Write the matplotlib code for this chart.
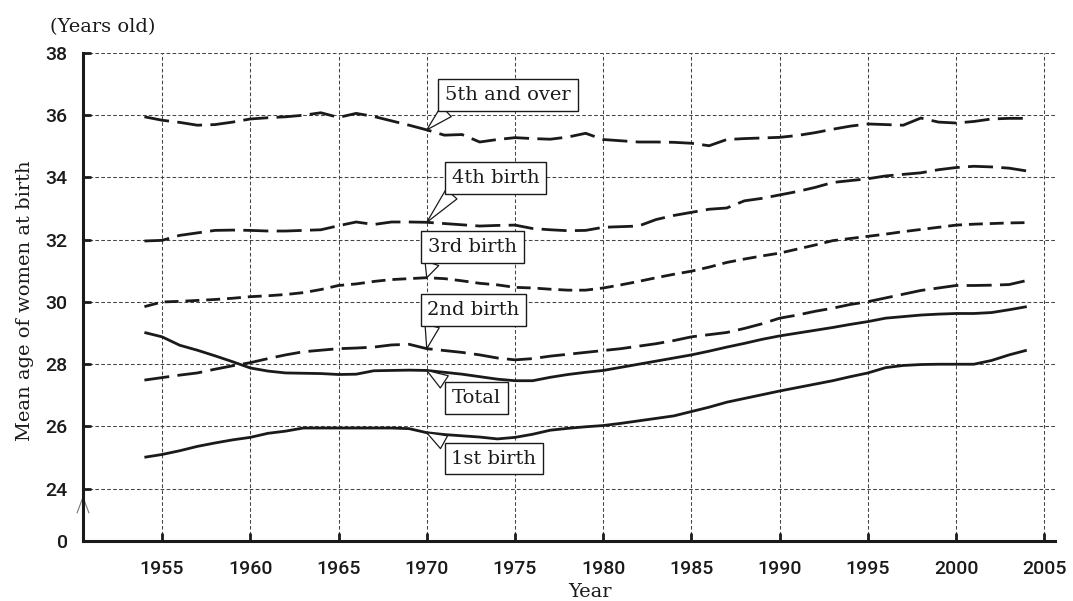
import numpy as np
import matplotlib
matplotlib.use('Agg')
import matplotlib.pyplot as plt

# mean age of women at birth, by birth order
years = np.arange(1954, 2005)

total = [29.02, 28.88, 28.61, 28.45, 28.27, 28.08, 27.88, 27.78, 27.72, 27.71,
         27.70, 27.67, 27.68, 27.79, 27.80, 27.81, 27.80, 27.74, 27.68, 27.60,
         27.52, 27.47, 27.47, 27.58, 27.67, 27.74, 27.80, 27.90, 28.00, 28.10,
         28.20, 28.30, 28.42, 28.55, 28.67, 28.80, 28.91, 29.00, 29.09, 29.18,
         29.28, 29.37, 29.48, 29.53, 29.58, 29.61, 29.63, 29.63, 29.66, 29.75,
         29.85]
first = [25.01, 25.10, 25.22, 25.36, 25.47, 25.57, 25.65, 25.78, 25.85, 25.95,
         25.95, 25.95, 25.95, 25.95, 25.95, 25.93, 25.80, 25.74, 25.70, 25.66,
         25.60, 25.65, 25.75, 25.88, 25.94, 25.99, 26.03, 26.10, 26.18, 26.26,
         26.34, 26.48, 26.62, 26.78, 26.90, 27.02, 27.14, 27.25, 27.36, 27.47,
         27.60, 27.72, 27.89, 27.96, 27.99, 28.00, 28.00, 28.00, 28.12, 28.30,
         28.45]
second = [27.49, 27.57, 27.65, 27.72, 27.84, 27.95, 28.05, 28.18, 28.30, 28.40,
          28.45, 28.50, 28.52, 28.55, 28.62, 28.64, 28.50, 28.44, 28.38, 28.30,
          28.20, 28.14, 28.18, 28.26, 28.32, 28.38, 28.44, 28.50, 28.58, 28.66,
          28.76, 28.88, 28.95, 29.02, 29.15, 29.30, 29.48, 29.58, 29.70, 29.80,
          29.92, 30.01, 30.13, 30.25, 30.37, 30.45, 30.53, 30.53, 30.54, 30.56,
          30.69]
third = [29.85, 30.00, 30.02, 30.05, 30.08, 30.12, 30.17, 30.20, 30.24, 30.30,
         30.40, 30.53, 30.58, 30.66, 30.72, 30.75, 30.78, 30.75, 30.68, 30.60,
         30.55, 30.47, 30.45, 30.41, 30.38, 30.38, 30.45, 30.55, 30.66, 30.78,
         30.89, 30.99, 31.12, 31.27, 31.38, 31.48, 31.57, 31.70, 31.83, 31.97,
         32.04, 32.11, 32.18, 32.26, 32.33, 32.40, 32.47, 32.50, 32.52, 32.54,
         32.55]
fourth = [31.96, 31.98, 32.14, 32.22, 32.30, 32.31, 32.30, 32.28, 32.28, 32.30,
          32.32, 32.45, 32.57, 32.49, 32.57, 32.57, 32.56, 32.52, 32.48, 32.44,
          32.46, 32.47, 32.36, 32.32, 32.29, 32.30, 32.40, 32.42, 32.44, 32.65,
          32.78, 32.88, 32.98, 33.02, 33.25, 33.33, 33.44, 33.55, 33.68, 33.84,
          33.90, 33.96, 34.05, 34.10, 34.15, 34.25, 34.32, 34.36, 34.34, 34.30,
          34.21]
fifth = [35.95, 35.84, 35.77, 35.68, 35.70, 35.78, 35.88, 35.92, 35.95, 36.00,
         36.08, 35.93, 36.06, 35.96, 35.82, 35.68, 35.53, 35.36, 35.38, 35.14,
         35.22, 35.28, 35.25, 35.23, 35.30, 35.42, 35.22, 35.18, 35.14, 35.14,
         35.13, 35.10, 35.02, 35.22, 35.25, 35.27, 35.29, 35.35, 35.44, 35.55,
         35.65, 35.72, 35.70, 35.68, 35.91, 35.78, 35.75, 35.80, 35.88, 35.90,
         35.90]

labels = ['5th and over', '4th birth', '3rd birth', '2nd birth', 'Total', '1st birth']
label_pos = [(1974.6, 36.65), (1973.9, 33.99), (1972.6, 31.77),
             (1972.65, 29.75), (1972.8, 26.92), (1973.8, 24.97)]

xticks = np.arange(1955, 2006, 5)
yticks = np.arange(24, 39, 2)
y_zero = 22.32   # where the "0" of the broken axis sits

ink = '#1a1a1a'
serif = 'DejaVu Serif'

fig = plt.figure(figsize=(10.73, 6.01), dpi=100)
ax = fig.add_axes([83/1073, 60/601, (1055-83)/1073, (541-53)/601])

series = [fifth, fourth, third, second, total, first]
dashes = [(9, 3), (9, 3), (5, 2.5), (9, 3), None, None]
for vals, d in zip(series, dashes):
    if d is None:
        ax.plot(years, vals, color=ink, lw=2, solid_capstyle='butt')
    else:
        ax.plot(years, vals, color=ink, lw=2, dashes=d)

ax.set_xlim(1950.52, 2005.6)
ax.set_ylim(y_zero, 38)

# dashed grid
for x in xticks:
    ax.axvline(x, color='#444444', lw=0.75, dashes=(3.5, 2.2), zorder=0)
for y in yticks:
    ax.axhline(y, color='#444444', lw=0.75, dashes=(3.5, 2.2), zorder=0)

ax.set_xticks(xticks)
ax.set_xticklabels([str(x) for x in xticks])
ax.set_yticks([y_zero] + list(yticks))
ax.set_yticklabels(['0'] + [str(y) for y in yticks])
ax.tick_params(direction='in', length=6, width=2, color=ink,
               labelsize=14, labelcolor=ink)
ax.tick_params(axis='x', pad=14)
ax.tick_params(axis='y', pad=11)
for t in ax.get_xticklabels() + ax.get_yticklabels():
    t.set_fontfamily('Roboto')
    t.set_fontweight('medium')

for s in ['top', 'right']:
    ax.spines[s].set_visible(False)
for s in ['left', 'bottom']:
    ax.spines[s].set_linewidth(2.2)
    ax.spines[s].set_color(ink)

# axis break chevron
ax.plot([-0.006, 0, 0.006], [0.058, 0.09, 0.058], transform=ax.transAxes,
        color='#777777', lw=0.8, clip_on=False)

# callout labels pointing at 1970
for lab, pos, vals in zip(labels, label_pos, series):
    yv = vals[list(years).index(1970)]
    above = pos[1] > yv
    ax.annotate(lab, xy=(1970, yv), xytext=pos, ha='center', va='center',
                fontsize=14, family=serif, color=ink,
                bbox=dict(boxstyle='square,pad=0.35', fc='white', ec=ink, lw=1),
                arrowprops=dict(arrowstyle='wedge,tail_width=0.75,shrink_factor=0.5',
                                fc='white', ec=ink, lw=0.9,
                                relpos=(0.07, 0) if above else (0.07, 1),
                                shrinkA=0, shrinkB=0))

fig.text(50/1073, 1 - 27/601, '(Years old)', fontsize=14, family=serif,
         color=ink, va='center', ha='left')
fig.text(590/1073, 1 - 592/601, 'Year', fontsize=14, family=serif,
         color=ink, va='center', ha='center')
fig.text(25/1073, 1 - 301/601, 'Mean age of women at birth', fontsize=14,
         family=serif, color=ink, va='center', ha='center', rotation=90)

fig.savefig('out.png', dpi=100)
